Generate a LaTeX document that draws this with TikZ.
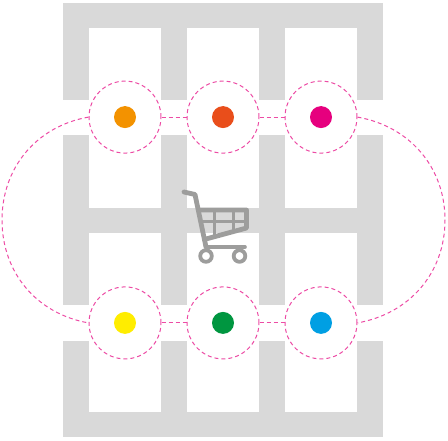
\documentclass[tikz,border=0pt]{standalone}
\usepackage{tikz}
\usetikzlibrary{positioning}
\definecolor{aislegray}{HTML}{D9D9D9}
\definecolor{cartgray}{HTML}{9D9D9C}
\definecolor{linkpink}{HTML}{E6007E}
\definecolor{spotorange}{HTML}{F39200}
\definecolor{spotred}{HTML}{E94E1B}
\definecolor{spotyellow}{HTML}{FFED00}
\definecolor{spotgreen}{HTML}{009640}
\definecolor{spotblue}{HTML}{009FE3}
\tikzset{
  shelf/.style={
    fill=white,
    draw=none
  },
  stop/.style={
    circle,
    draw=linkpink!70,
    dash pattern=on 4pt off 3pt,
    line width=1pt,
    minimum size=72pt,
    inner sep=0pt
  },
  spot/.style={
    circle,
    minimum size=22pt,
    inner sep=0pt
  },
  route/.style={
    draw=linkpink!70,
    line width=1pt,
    dash pattern=on 4pt off 3pt
  },
  cart/.style={
    draw=cartgray,
    line width=4.8pt,
    line cap=round,
    line join=round
  },
  cartgrid/.style={
    draw=cartgray,
    line width=3pt
  }
}
\def\colA{125}
\def\colB{223}
\def\colC{321}

\begin{document}
\begin{tikzpicture}[x=1pt, y=-1pt]
  % Same page size as the reference
  \useasboundingbox (0,0) rectangle (448,441);

  % Floor plan
  \fill[aislegray] (63,3) rectangle (383,437);
  \foreach \x in {89,187,285} {
    \foreach \y/\yy in {28/100, 135/208, 233/305, 341/412} {
      \fill[shelf] (\x,\y) rectangle (\x+72,\yy);
    }
  }
  \fill[shelf] (63,100) rectangle (383,135);
  \fill[shelf] (63,305) rectangle (383,341);

  % Stops along the route
  \node[stop] (stopA) at (\colA,117.1) {};
  \node[stop] (stopB) at (\colB,117.1) {};
  \node[stop] (stopC) at (\colC,117.1) {};
  \node[stop] (stopD) at (\colA,322.9) {};
  \node[stop] (stopE) at (\colB,322.9) {};
  \node[stop] (stopF) at (\colC,322.9) {};

  \node[spot, fill=spotorange] (spotA) at (stopA) {};
  \node[spot, fill=spotred] (spotB) at (stopB) {};
  \node[spot, fill=linkpink] (spotC) at (stopC) {};
  \node[spot, fill=spotyellow] (spotD) at (stopD) {};
  \node[spot, fill=spotgreen] (spotE) at (stopE) {};
  \node[spot, fill=spotblue] (spotF) at (stopF) {};

  \coordinate (farL) at (2,220);
  \coordinate (farR) at (445,220);

  \draw[route] (stopA) -- (stopB);
  \draw[route] (stopB) -- (stopC);
  \draw[route] (stopD) -- (stopE);
  \draw[route] (stopE) -- (stopF);
  \draw[route] (stopA.west) to[out=190, in=90] (farL) to[out=-90, in=170] (stopD.west);
  \draw[route] (stopC.east) to[out=-10, in=90] (farR) to[out=-90, in=10] (stopF.east);

  % Shopping cart
  \draw[cart] (184,192) -- (195,194.5) -- (206,247);
  \draw[cart, line width=3.6pt] (206,247) -- (245,247);
  \draw[cart, line cap=butt] (198,210) -- (246.5,210) -- (246.5,228) -- (206,239);
  \draw[cartgrid] (200,222) -- (247,222);
  \draw[cartgrid] (214.5,209) -- (214.5,235);
  \draw[cartgrid] (233,209) -- (233,231);
  \draw[cart, line width=3.8pt] (206,256) circle (5.8pt);
  \draw[cart, line width=3.8pt] (239.5,256) circle (5.8pt);
\end{tikzpicture}
\end{document}
